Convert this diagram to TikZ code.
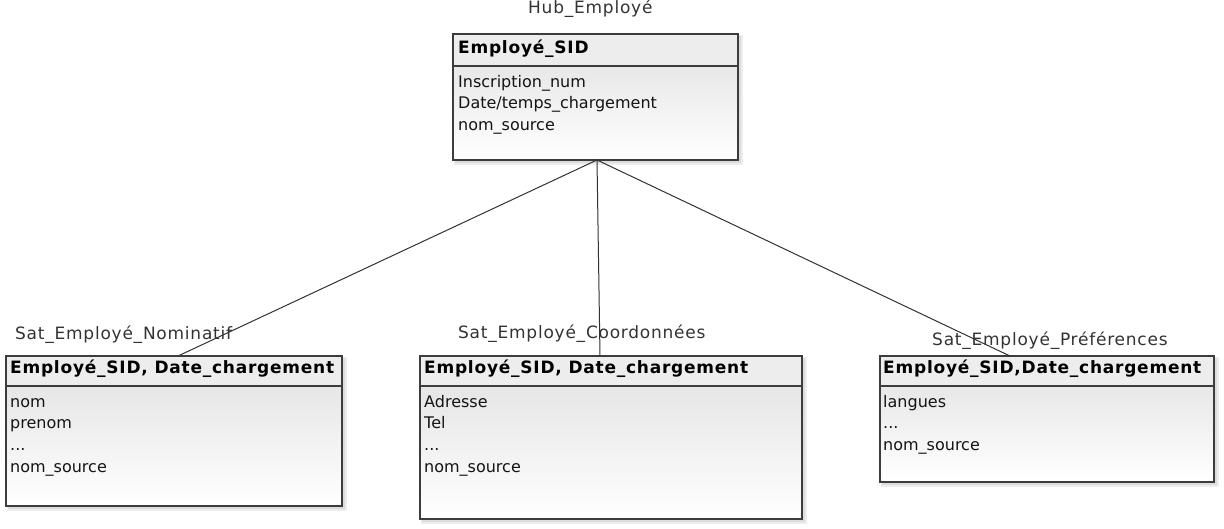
\documentclass[tikz,border=0pt]{standalone}
\usepackage{fontspec}
\setmainfont{DejaVu Sans}
\newfontfamily\lblfont[LetterSpace=4.5]{DejaVu Sans}
\newfontfamily\hdrfont[LetterSpace=4.5]{DejaVu Sans}
\definecolor{bordercol}{HTML}{3C3C3C}
\definecolor{hdrcol}{HTML}{EDEDED}
\definecolor{topcol}{HTML}{E0E0E0}
\definecolor{txtcol}{HTML}{141414}
\definecolor{lblcol}{HTML}{333333}
\definecolor{linecol}{HTML}{333333}
\begin{document}
\begin{tikzpicture}[x=1pt,y=1pt,
  boxbody/.style={draw=none, top color=topcol, bottom color=white, inner sep=0pt, outer sep=0pt, anchor=north west},
  boxborder/.style={draw=bordercol, line width=1.5pt},
  hdrfill/.style={fill=hdrcol},
  shadowlayer/.style={fill=black, opacity=0.07},
  hdrtext/.style={anchor=base west, inner sep=0pt, text=black, font=\hdrfont\bfseries\fontsize{17}{20}\selectfont},
  bodytext/.style={anchor=base west, inner sep=0pt, text=txtcol, font=\fontsize{16}{20}\selectfont},
  lbltext/.style={anchor=base west, inner sep=0pt, text=lblcol, font=\lblfont\fontsize{17}{20}\selectfont},
  connector/.style={draw=linecol, line width=1pt}
]
\useasboundingbox (0,0) rectangle (1224,-528);
\fill[white] (0,0) rectangle (1224,-528);

% ---------- shadows ----------
\foreach \xa/\ya/\xb/\yb in {453/34/738/160, 6/356/342/506, 420/356/802/519, 880/356/1214/482}{
  \fill[shadowlayer] (\xa+1,-\ya-1) rectangle (\xb+5,-\yb-5);
  \fill[shadowlayer] (\xa+2,-\ya-2) rectangle (\xb+3,-\yb-3);
}

% ---------- Hub ----------
\node[boxbody, minimum width=285pt, minimum height=126pt] (hub) at (453,-34) {};
\fill[hdrfill] (hub.north west) rectangle ([yshift=-32pt]hub.north east);
\draw[boxborder] (hub.north west) rectangle (hub.south east);
\draw[boxborder] ([yshift=-32pt]hub.north west) -- ([yshift=-32pt]hub.north east);
\node[lbltext] (hublbl) at (528,-13) {Hub\_Employé};
\node[hdrtext] (hubh) at (458,-53) {Employé\_SID};
\node[bodytext] (hub1) at (458,-87) {Inscription\_num};
\node[bodytext] (hub2) at (458,-108.5) {Date/temps\_chargement};
\node[bodytext] (hub3) at (458,-130) {nom\_source};

% ---------- Sat 1 ----------
\node[boxbody, minimum width=336pt, minimum height=150pt] (s1) at (6,-356) {};
\fill[hdrfill] (s1.north west) rectangle ([yshift=-30pt]s1.north east);
\draw[boxborder] (s1.north west) rectangle (s1.south east);
\draw[boxborder] ([yshift=-30pt]s1.north west) -- ([yshift=-30pt]s1.north east);
\node[hdrtext] (s1h) at (10,-373) {Employé\_SID, Date\_chargement};
\node[bodytext] (s1a) at (10,-407) {nom};
\node[bodytext] (s1b) at (10,-428.5) {prenom};
\node[bodytext] (s1c) at (10,-450) {...};
\node[bodytext] (s1d) at (10,-472) {nom\_source};

% ---------- Sat 2 ----------
\node[boxbody, minimum width=382pt, minimum height=163pt] (s2) at (420,-356) {};
\fill[hdrfill] (s2.north west) rectangle ([yshift=-30pt]s2.north east);
\draw[boxborder] (s2.north west) rectangle (s2.south east);
\draw[boxborder] ([yshift=-30pt]s2.north west) -- ([yshift=-30pt]s2.north east);
\node[hdrtext] (s2h) at (424,-373) {Employé\_SID, Date\_chargement};
\node[bodytext] (s2a) at (424,-407) {Adresse};
\node[bodytext] (s2b) at (424,-428.5) {Tel};
\node[bodytext] (s2c) at (424,-450) {...};
\node[bodytext] (s2d) at (424,-472) {nom\_source};

% ---------- Sat 3 ----------
\node[boxbody, minimum width=334pt, minimum height=126pt] (s3) at (880,-356) {};
\fill[hdrfill] (s3.north west) rectangle ([yshift=-30pt]s3.north east);
\draw[boxborder] (s3.north west) rectangle (s3.south east);
\draw[boxborder] ([yshift=-30pt]s3.north west) -- ([yshift=-30pt]s3.north east);
\node[hdrtext] (s3h) at (883,-373) {Employé\_SID,Date\_chargement};
\node[bodytext] (s3a) at (883,-407) {langues};
\node[bodytext] (s3b) at (883,-428.5) {...};
\node[bodytext] (s3c) at (883,-450) {nom\_source};

% ---------- connectors ----------
\coordinate (hubb) at ([xshift=144pt]hub.south west);
\coordinate (s1t) at ([xshift=172pt]s1.north west);
\coordinate (s2t) at ([xshift=180pt]s2.north west);
\coordinate (s3t) at ([xshift=130pt]s3.north west);
\draw[connector] (hubb) -- (s1t);
\draw[connector] (hubb) -- (s2t);
\draw[connector] (hubb) -- (s3t);

% ---------- labels (drawn over connectors) ----------
\node[lbltext] (s1lbl) at (15,-339) {Sat\_Employé\_Nominatif};
\node[lbltext] (s2lbl) at (458,-338) {Sat\_Employé\_Coordonnées};
\node[lbltext] (s3lbl) at (932,-345) {Sat\_Employé\_Préférences};
\end{tikzpicture}
\end{document}
